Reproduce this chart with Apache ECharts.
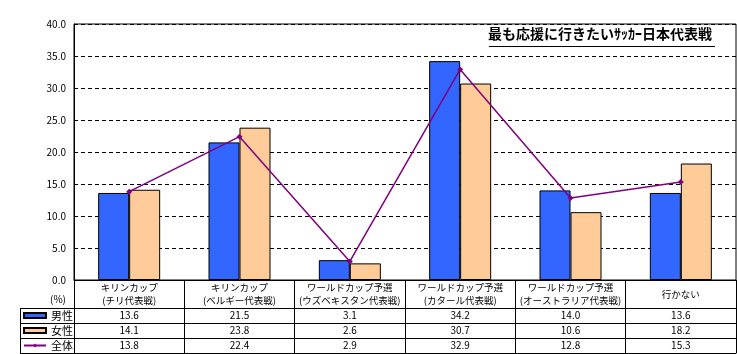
<!DOCTYPE html>
<html>
<head>
<meta charset="utf-8">
<script src="https://cdn.jsdelivr.net/npm/echarts@6/dist/echarts.min.js"></script>
<style>
  html, body { margin: 0; padding: 0; background: #fff; }
  #chart { width: 737px; height: 354px; }
</style>
</head>
<body>
<div id="chart"></div>
<script>
// データ
var categories = [
  'キリンカップ\n(チリ代表戦)',
  'キリンカップ\n(ベルギー代表戦)',
  'ワールドカップ予選\n(ウズベキスタン代表戦)',
  'ワールドカップ予選\n(カタール代表戦)',
  'ワールドカップ予選\n(オーストラリア代表戦)',
  '行かない'
];
var male = [13.6, 21.5, 3.1, 34.2, 14.0, 13.6];
var female = [14.1, 23.8, 2.6, 30.7, 10.6, 18.2];
var total = [13.8, 22.4, 2.9, 32.9, 12.8, 15.3];
var yMin = 0, yMax = 40, yStep = 5;

var FONT = 'Noto Sans CJK JP';

// 表の行（データテーブル）をx軸で描く
function rowAxis(offset, values) {
  return {
    type: 'category',
    data: categories,
    position: 'bottom',
    offset: offset,
    axisLine: { show: true, lineStyle: { color: '#000', width: 1 } },
    axisTick: { show: false },
    axisLabel: {
      show: !!values,
      interval: 0,
      margin: 7.5,
      verticalAlign: 'middle',
      fontSize: 10,
      fontFamily: FONT,
      color: '#000',
      formatter: function (v, i) { return values ? values[i].toFixed(1) : ''; }
    },
    splitLine: { show: false }
  };
}

var chart = echarts.init(document.getElementById('chart'));

var option = {
  animation: false,
  title: {
    text: '最も応援に行きたいｻｯｶｰ日本代表戦',
    left: 488,
    top: 27,
    padding: 0,
    textStyle: { fontFamily: FONT, fontSize: 14, fontWeight: 'bold', color: '#000' }
  },
  legend: {
    orient: 'vertical',
    left: 23,
    top: 308,
    padding: 0,
    itemGap: 0,
    itemWidth: 22,
    itemHeight: 5,
    textStyle: { fontFamily: FONT, fontSize: 11, lineHeight: 15, color: '#000' },
    data: [
      { name: '男性', icon: 'rect' },
      { name: '女性', icon: 'rect' },
      { name: '全体' }
    ]
  },
  grid: {
    left: 74, right: 1, top: 24, bottom: 74,
    show: true, borderColor: '#000', borderWidth: 1, backgroundColor: '#fff'
  },
  xAxis: [
    {
      type: 'category',
      data: categories,
      position: 'bottom',
      axisLine: { show: true, lineStyle: { color: '#000', width: 1 } },
      axisTick: { show: true, length: 73, alignWithLabel: false, interval: 0, lineStyle: { color: '#000' } },
      axisLabel: {
        interval: 0,
        margin: 14,
        verticalAlign: 'middle',
        fontSize: 9.5,
        lineHeight: 13,
        fontFamily: FONT,
        color: '#000'
      }
    },
    rowAxis(28, male),
    rowAxis(43, female),
    rowAxis(58, total),
    rowAxis(73, null)
  ],
  yAxis: {
    type: 'value',
    min: yMin,
    max: yMax,
    interval: yStep,
    axisLine: { show: true, lineStyle: { color: '#000' } },
    axisTick: { show: false },
    axisLabel: {
      margin: 8,
      fontSize: 10,
      fontFamily: FONT,
      color: '#000',
      formatter: function (v) { return v.toFixed(1); }
    },
    splitLine: { show: true, lineStyle: { color: '#000', type: [4, 3], width: 1 } }
  },
  series: [
    {
      name: '男性',
      type: 'bar',
      data: male,
      barWidth: 31,
      barGap: '0%',
      itemStyle: { color: '#3366FF', borderColor: '#000', borderWidth: 1 }
    },
    {
      name: '女性',
      type: 'bar',
      data: female,
      barWidth: 31,
      barGap: '0%',
      itemStyle: { color: '#FFCC99', borderColor: '#000', borderWidth: 1 }
    },
    {
      name: '全体',
      type: 'line',
      data: total,
      symbol: 'diamond',
      symbolSize: 6,
      lineStyle: { color: '#800080', width: 1.5 },
      itemStyle: { color: '#800080' },
      z: 5
    }
  ],
  graphic: [
    // タイトルの下線
    { type: 'rect', z: 100, shape: { x: 489, y: 46, width: 226, height: 1 }, style: { fill: '#000' } },
    // (%)
    { type: 'text', left: 50, top: 294, style: { text: '(%)', fontSize: 10, fontFamily: FONT, fill: '#000' } },
    // 凡例列の枠
    { type: 'line', shape: { x1: 20.5, y1: 308.5, x2: 20.5, y2: 353.5 }, style: { stroke: '#000', lineWidth: 1 } },
    { type: 'line', shape: { x1: 20, y1: 308.5, x2: 75, y2: 308.5 }, style: { stroke: '#000', lineWidth: 1 } },
    { type: 'line', shape: { x1: 20, y1: 323.5, x2: 75, y2: 323.5 }, style: { stroke: '#000', lineWidth: 1 } },
    { type: 'line', shape: { x1: 20, y1: 338.5, x2: 75, y2: 338.5 }, style: { stroke: '#000', lineWidth: 1 } },
    { type: 'line', shape: { x1: 20, y1: 353.5, x2: 75, y2: 353.5 }, style: { stroke: '#000', lineWidth: 1 } }
  ]
};

chart.setOption(option);
</script>
</body>
</html>
